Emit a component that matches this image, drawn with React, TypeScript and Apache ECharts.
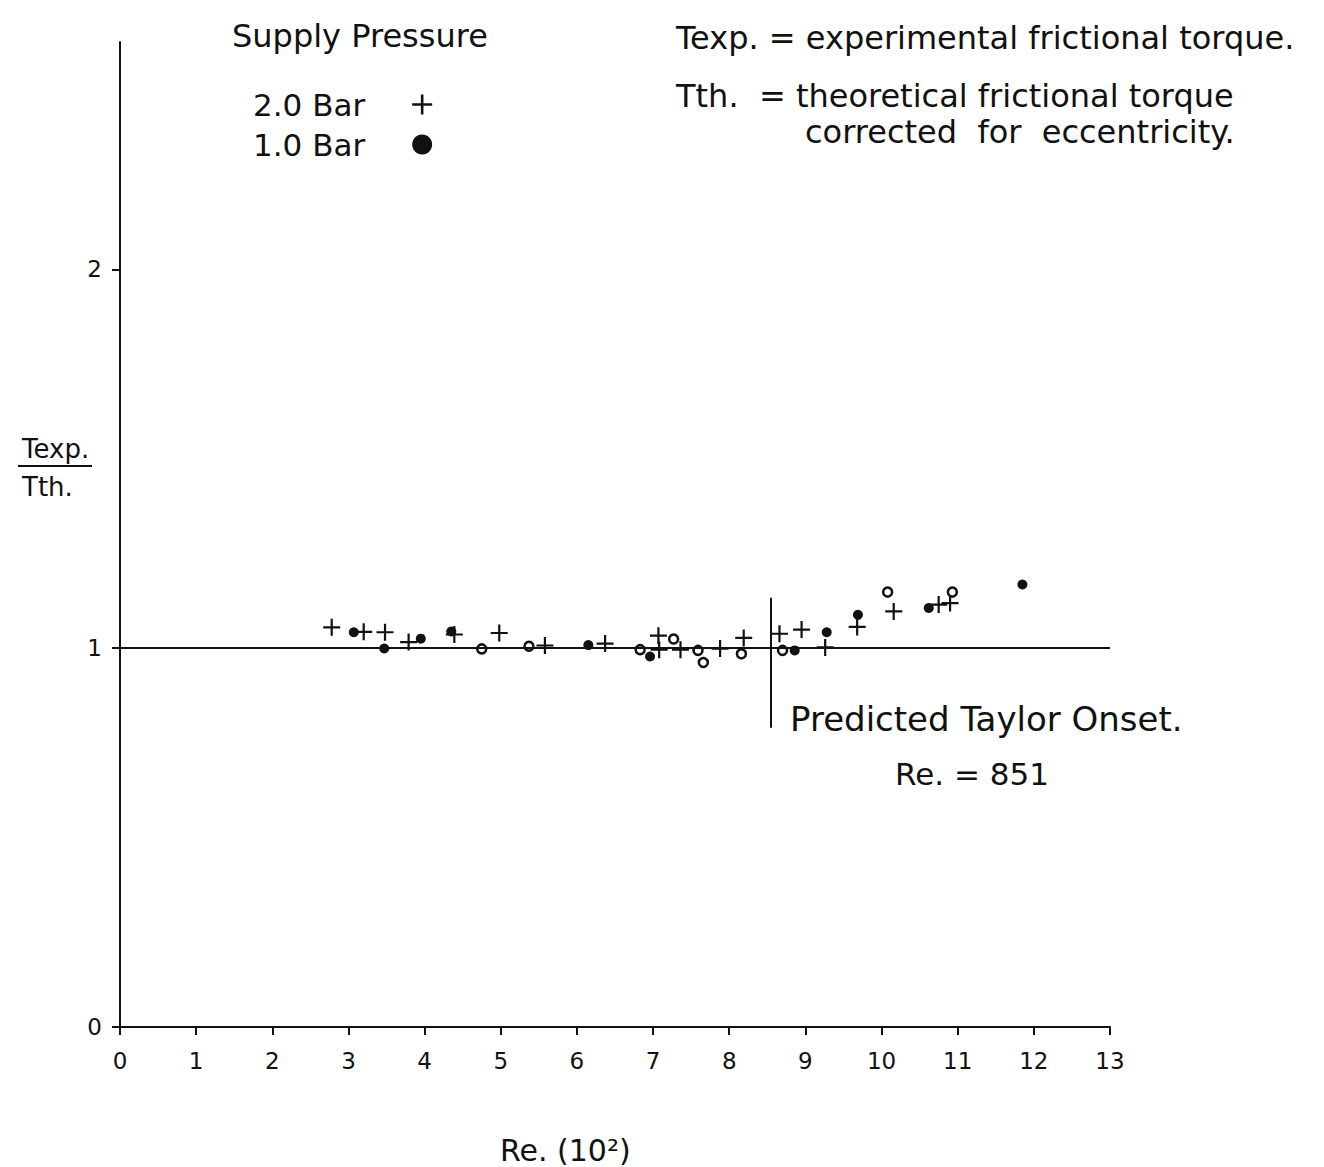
import React, { useEffect, useRef } from "react";
import * as echarts from "echarts";

// Re (10^2), Texp/Tth — 2.0 bar supply pressure (+)
const bar2Re = [2.78, 3.2, 3.48, 3.79, 4.39, 4.98, 5.58, 6.37, 7.07, 7.08, 7.36, 7.88, 8.19, 8.66, 8.95, 9.26, 9.68, 10.16, 10.75, 10.9];
const bar2Ratio = [1.055, 1.043, 1.042, 1.016, 1.036, 1.04, 1.007, 1.012, 1.033, 0.996, 0.996, 0.999, 1.027, 1.038, 1.049, 1.002, 1.056, 1.097, 1.115, 1.119];

// 1.0 bar supply pressure, filled dots
const bar1FilledRe = [3.07, 3.47, 3.95, 4.35, 6.15, 6.96, 8.86, 9.28, 9.69, 10.62, 11.85];
const bar1FilledRatio = [1.042, 0.999, 1.025, 1.044, 1.008, 0.978, 0.994, 1.042, 1.088, 1.106, 1.168];

// 1.0 bar supply pressure, open dots
const bar1OpenRe = [4.75, 5.37, 6.83, 7.27, 7.59, 7.66, 8.16, 8.7, 10.08, 10.93];
const bar1OpenRatio = [0.998, 1.005, 0.996, 1.024, 0.994, 0.962, 0.985, 0.994, 1.148, 1.148];

const xTicks = [0, 1, 2, 3, 4, 5, 6, 7, 8, 9, 10, 11, 12, 13];
const yTicks = [0, 1, 2];
const taylorOnsetRe = 8.55;
const taylorLineRange = [0.79, 1.133];
const referenceRatio = 1;

const FONT = "DejaVu Sans";
const PLUS = "path://M-1,-0.13 H1 V0.13 H-1 Z M-0.13,-1 H0.13 V1 H-0.13 Z";

const zip = (a: number[], b: number[]) => a.map((v, i) => [v, b[i]]);

export default function App() {
  const ref = useRef<HTMLDivElement>(null);
  useEffect(() => {
    if (!ref.current) return;
    const chart = echarts.init(ref.current, null, { renderer: "svg" });
    const txt = (text: string, x: number, y: number, size = 26, extra: any = {}) => ({
      type: "text",
      x,
      y,
      style: { text, fontFamily: FONT, fontSize: size, fill: "#111", textVerticalAlign: "middle", ...extra },
    });
    chart.setOption({
      animation: false,
      backgroundColor: "#fff",
      grid: { left: 120, right: 214, top: 42, bottom: 140, containLabel: false },
      xAxis: {
        type: "value",
        min: 0,
        max: 13,
        interval: 1,
        axisLine: { lineStyle: { color: "#111", width: 2 } },
        axisTick: { show: true, length: 8, lineStyle: { color: "#111", width: 2 }, customValues: xTicks },
        axisLabel: { color: "#111", fontSize: 23, fontFamily: FONT, margin: 22, customValues: xTicks },
        splitLine: { show: false },
      },
      yAxis: {
        type: "value",
        min: 0,
        max: 2.6,
        interval: 1,
        axisLine: { show: true, lineStyle: { color: "#111", width: 2 } },
        axisTick: { show: true, length: 8, lineStyle: { color: "#111", width: 2 }, customValues: yTicks },
        axisLabel: {
          color: "#111",
          fontSize: 23,
          fontFamily: FONT,
          margin: 18,
          customValues: yTicks,
          formatter: (v: number) => (Number.isInteger(v) ? String(v) : ""),
        },
        splitLine: { show: false },
      },
      legend: {
        orient: "vertical",
        left: 248,
        top: 84,
        align: "right",
        itemGap: 9,
        itemWidth: 20,
        itemHeight: 20,
        data: [
          { name: "2.0 Bar", itemStyle: { opacity: 1 } },
          { name: "1.0 Bar", icon: "circle", itemStyle: { opacity: 1 } },
        ],
        textStyle: { fontFamily: FONT, fontSize: 31, color: "#111", padding: [0, 42, 0, 0] },
        selectedMode: false,
      },
      series: [
        {
          name: "2.0 Bar",
          type: "scatter",
          symbol: PLUS,
          symbolSize: 17,
          itemStyle: { color: "#111", opacity: 1 },
          data: zip(bar2Re, bar2Ratio),
          markLine: {
            silent: true,
            symbol: "none",
            label: { show: false },
            lineStyle: { color: "#111", width: 2, type: "solid" },
            data: [
              { yAxis: referenceRatio },
              [
                { coord: [taylorOnsetRe, taylorLineRange[0]] },
                { coord: [taylorOnsetRe, taylorLineRange[1]] },
              ],
            ],
          },
        },
        {
          name: "1.0 Bar",
          type: "scatter",
          symbol: "circle",
          symbolSize: 10,
          itemStyle: { color: "#111", opacity: 1 },
          data: zip(bar1FilledRe, bar1FilledRatio),
        },
        {
          name: "1.0 Bar",
          type: "scatter",
          symbol: "circle",
          symbolSize: 9,
          itemStyle: { color: "#fff", borderColor: "#111", borderWidth: 2.5, opacity: 1 },
          data: zip(bar1OpenRe, bar1OpenRatio),
        },
      ],
      graphic: [
        txt("Supply Pressure", 232, 36, 32),
        txt("Texp. = experimental frictional torque.", 676, 38, 32),
        txt("Tth.  = theoretical frictional torque", 676, 96, 32),
        txt("corrected  for  eccentricity.", 805, 132, 32),
        txt("Predicted Taylor Onset.", 790, 719, 34),
        txt("Re. = 851", 895, 774, 31),
        txt("Re. (10²)", 500, 1150, 30),
        txt("Texp.", 22, 449, 26),
        { type: "line", shape: { x1: 18, y1: 466, x2: 92, y2: 466 }, style: { stroke: "#111", lineWidth: 2 } },
        txt("Tth.", 22, 487, 26),
      ],
    });
    return () => chart.dispose();
  }, []);
  return <div ref={ref} style={{ position: "absolute", left: 0, top: 0, width: 1324, height: 1167 }} />;
}
